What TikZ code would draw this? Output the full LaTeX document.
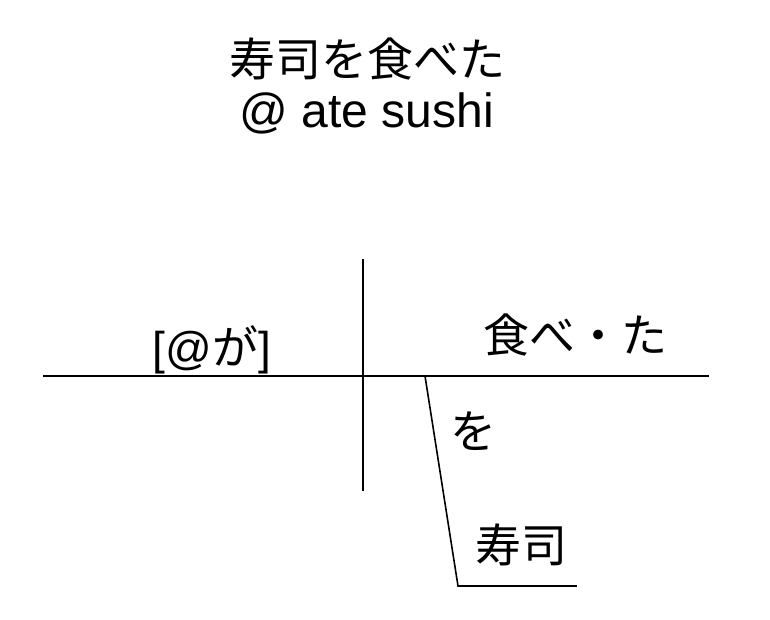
\documentclass[tikz,border=0pt]{standalone}
\usepackage{fontspec}
\setmainfont{Noto Sans CJK JP}
\newfontfamily\latinfont{Liberation Sans}
\begin{document}
\begin{tikzpicture}[x=1pt,y=-1pt,
  lbl/.style={anchor=base,inner sep=0pt,font=\fontsize{46}{54}\selectfont},
  ln/.style={line width=1.6pt,line cap=rect}]
\useasboundingbox (0,0) rectangle (770,620);
\node[lbl] (title) at (367,77) {寿司を食べた};
\node[lbl,font=\latinfont\fontsize{48}{56}\selectfont] (gloss) at (367,128) {@ ate sushi};
\coordinate (bl) at (44,376);
\coordinate (br) at (708,376);
\coordinate (vt) at (363,260);
\coordinate (vb) at (363,490);
\coordinate (dt) at (425,376);
\coordinate (db) at (458,586);
\coordinate (de) at (576,586);
\draw[ln] (bl) -- (br);
\draw[ln] (vt) -- (vb);
\draw[ln] (dt) -- (db) -- (de);
\node[lbl] (subj) at (212,364) {{\latinfont [@}が{\latinfont ]}};
\node[lbl] (verb) at (575,352) {食べ・た};
\node[lbl] (prt) at (473,448) {を};
\node[lbl] (obj) at (521,562) {寿司};
\end{tikzpicture}
\end{document}
